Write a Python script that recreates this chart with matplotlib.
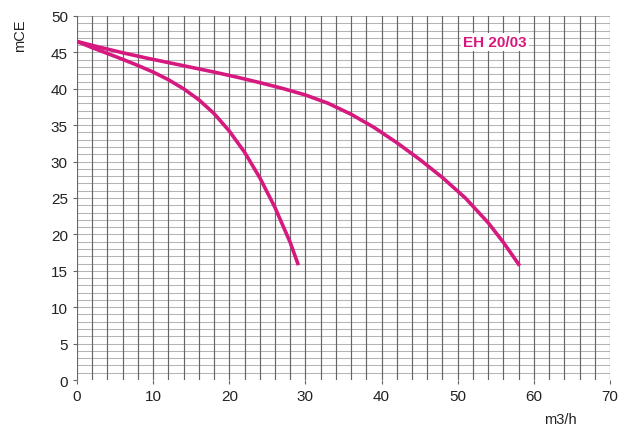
import matplotlib
matplotlib.use("Agg")
import matplotlib.pyplot as plt
import numpy as np

plt.rcParams['font.family'] = ['Liberation Sans', 'DejaVu Sans']

# Curve 1 (wide curve)
flow1 = [0, 3, 6, 9, 12, 15, 18, 21, 24, 27, 30, 33, 36, 39, 42, 45, 48, 51, 54, 56, 58]
head1 = [46.5, 45.7, 44.95, 44.25, 43.6, 42.95, 42.3, 41.6, 40.85, 40.05, 39.15, 38.0, 36.5,
         34.7, 32.6, 30.3, 27.8, 25.0, 21.6, 18.9, 15.9]
# Curve 2 (narrow curve)
flow2 = [0, 2, 4, 6, 8, 10, 12, 14, 16, 18, 20, 22, 24, 26, 28, 29]
head2 = [46.5, 45.65, 44.85, 44.05, 43.2, 42.3, 41.25, 40.0, 38.5, 36.6, 34.2, 31.3, 27.8,
         23.7, 18.9, 16.0]

xticks = [0, 10, 20, 30, 40, 50, 60, 70]
yticks = [0, 5, 10, 15, 20, 25, 30, 35, 40, 45, 50]
label = "EH 20/03"
color = '#d6197f'

fig = plt.figure(figsize=(6.33, 4.31), dpi=100)
ax = fig.add_axes([0.1216, 0.116, 0.8421, 0.8446])

for y in np.arange(0, 51, 1):
    ax.axhline(y, color='#b4b4b4', lw=0.75, zorder=1)
for x in np.arange(0, 71, 2):
    ax.axvline(x, color='#666666', lw=0.85, zorder=1)

ax.plot(flow1, head1, color=color, lw=2.6, zorder=3, solid_joinstyle='round')
ax.plot(flow2, head2, color=color, lw=2.6, zorder=3, solid_joinstyle='round')

ax.set_xlim(0, 70)
ax.set_ylim(0, 50)
ax.set_xticks(xticks)
ax.set_yticks(yticks)
ax.tick_params(labelsize=11, length=3, color='#666666', labelcolor='#222222')
for s in ax.spines.values():
    s.set_visible(False)

ax.text(54.9, 46.4, label, color=color, fontsize=11, fontweight='bold', zorder=4,
        ha='center', va='center', bbox=dict(facecolor='white', edgecolor='none', pad=1.5))

fig.text(0.032, 0.955, "mCE", rotation=90, ha='center', va='top', fontsize=10.5, color='#222222')
fig.text(0.885, 0.026, "m3/h", ha='center', va='center', fontsize=10.5, color='#222222')

fig.savefig("out.png", dpi=100)
